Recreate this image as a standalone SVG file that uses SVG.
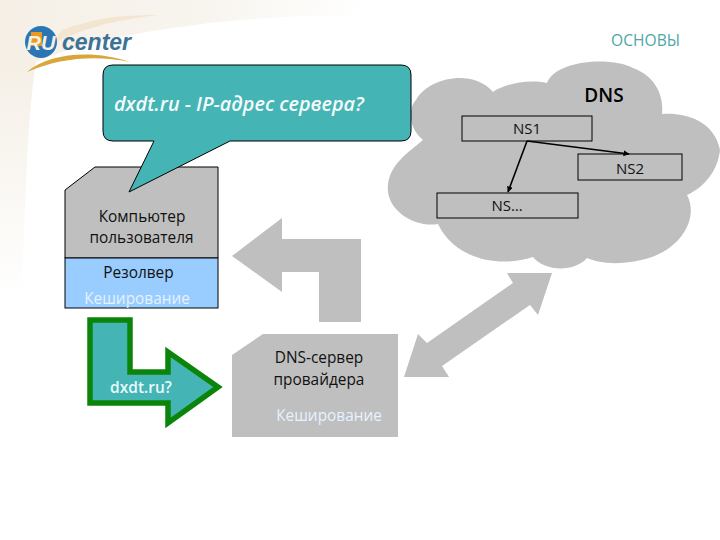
<svg xmlns="http://www.w3.org/2000/svg" width="720" height="540" viewBox="0 0 720 540">
<style>
text{font-family:"Open Sans","Liberation Sans",sans-serif}
.g{fill:#bfbfbf}
.box{fill:#bfbfbf;stroke:#000;stroke-width:1}
.t{font-size:15.400px;fill:#111;text-anchor:middle}
.n{font-size:15px;fill:#111;text-anchor:middle}
.w{font-size:15.400px;fill:#e6f2ff;text-anchor:middle}
.c{stroke:#000;stroke-width:1.6;fill:none;marker-end:url(#a)}
</style>
<defs>
<marker id="a" markerWidth="7" markerHeight="7" refX="5.5" refY="3" orient="auto" markerUnits="userSpaceOnUse"><path d="M0 0L6 3L0 6z" fill="#000"/></marker>
<linearGradient id="bg1" x1="0" y1="0" x2="1" y2="0"><stop offset="0" stop-color="#f5efe6"/><stop offset=".55" stop-color="#f8f5ef"/><stop offset="1" stop-color="#ffffff"/></linearGradient>
<linearGradient id="bg2" x1="0" y1="0" x2="0" y2="1"><stop offset="0" stop-color="#f5efe6"/><stop offset="1" stop-color="#ffffff"/></linearGradient>
</defs>
<g id="background">
<rect width="720" height="540" fill="#fff"/>
<path d="M0 0H370L350 15C250 15 110 30 36 62L0 62z" fill="url(#bg1)"/>
<path d="M0 62H36C30 100 26 160 22 300H0z" fill="url(#bg2)"/>
<path d="M62 30C100 16 130 15 160 15C110 20 80 30 52 44z" fill="#f3e6d0"/>
</g>
<g id="logo">
<circle cx="41" cy="42" r="16" fill="#2a76b4"/>
<path d="M31 32h11v14h-11z" fill="#e99a1f"/>
<text x="41" y="50" font-size="20" font-weight="bold" font-style="italic" fill="#f4f0e4" text-anchor="middle" style="font-family:'Liberation Sans',sans-serif">RU</text>
<text x="62" y="50" font-size="23" font-weight="bold" font-style="italic" fill="#3b7296" style="font-family:'Liberation Sans',sans-serif">center</text>
<path d="M27 72C50 52 95 50 130 62C95 55 60 58 27 72z" fill="#d9a63a"/>
</g>
<text id="title" x="645.500" y="46" font-size="15.600" fill="#4ea6a8" text-anchor="middle">ОСНОВЫ</text>
<g id="dns-cloud">
<path class="g" d="M423 140C408 128 408 108 416 100C428 78 472 68 493 92C500 86 525 78 547 83C555 60 612 56 633 68C655 76 664 95 662 114C680 112 714 118 720 150C718 170 705 187 687 195C698 215 685 245 652 257C625 266 600 264 587 258C575 272 545 272 533 257C500 268 455 260 438 224C415 228 385 210 388 185C390 165 405 155 423 140z"/>
<text x="604" y="102" font-size="19" font-weight="600" fill="#000" text-anchor="middle">DNS</text>
</g>
<g id="ns1"><rect class="box" x="462" y="116" width="130" height="25"/><text class="n" x="527" y="134">NS1</text></g>
<g id="ns2"><rect class="box" x="578" y="154" width="104" height="26"/><text class="n" x="630" y="174">NS2</text></g>
<g id="ns3"><rect class="box" x="437" y="193" width="141" height="25"/><text class="n" x="507" y="211">NS…</text></g>
<g id="connectors">
<path class="c" d="M527 141L629 154"/>
<path class="c" d="M527 141L508 192"/>
<path class="g" d="M232 256L282 218V239H361V322H319V272H282V292z"/>
<path class="g" d="M404 377L418 334L427 343L513 283L507 273H552L538 315L530 305L442 366L449 377z"/>
<path d="M90 320H130V372H168V352L218 387L168 423V403H90z" fill="#45b4b4" stroke="#0a850a" stroke-width="5.500"/>
<text x="141" y="393" font-size="15.500" font-weight="600" fill="#e8fbfb" text-anchor="middle">dxdt.ru?</text>
</g>
<g id="computer">
<path class="box" d="M65 190L95 167H218V258H65z"/>
<rect x="65" y="258" width="153" height="50" fill="#99ccff" stroke="#000"/>
<text class="t" x="142" y="222">Компьютер</text>
<text class="t" x="141.500" y="243">пользователя</text>
<text class="t" x="138.500" y="278" fill="#0a1a3a">Резолвер</text>
<text class="w" x="137" y="304">Кеширование</text>
</g>
<g id="bubble">
<path d="M113 65H401Q411 65 411 75V131Q411 141 401 141H230L129 192L154 141H113Q103 141 103 131V75Q103 65 113 65z" fill="#45b4b4" stroke="#000" stroke-width="1"/>
<text x="114" y="111" font-size="19.800" font-weight="600" font-style="italic" fill="#f4fbfb">dxdt.ru - IP-адрес сервера?</text>
</g>
<g id="dns-server">
<path class="g" d="M232 355L263 334H398V437H232z"/>
<text class="t" x="319" y="363">DNS-сервер</text>
<text class="t" x="319" y="385">провайдера</text>
<text class="w" x="329" y="421">Кеширование</text>
</g>
</svg>
